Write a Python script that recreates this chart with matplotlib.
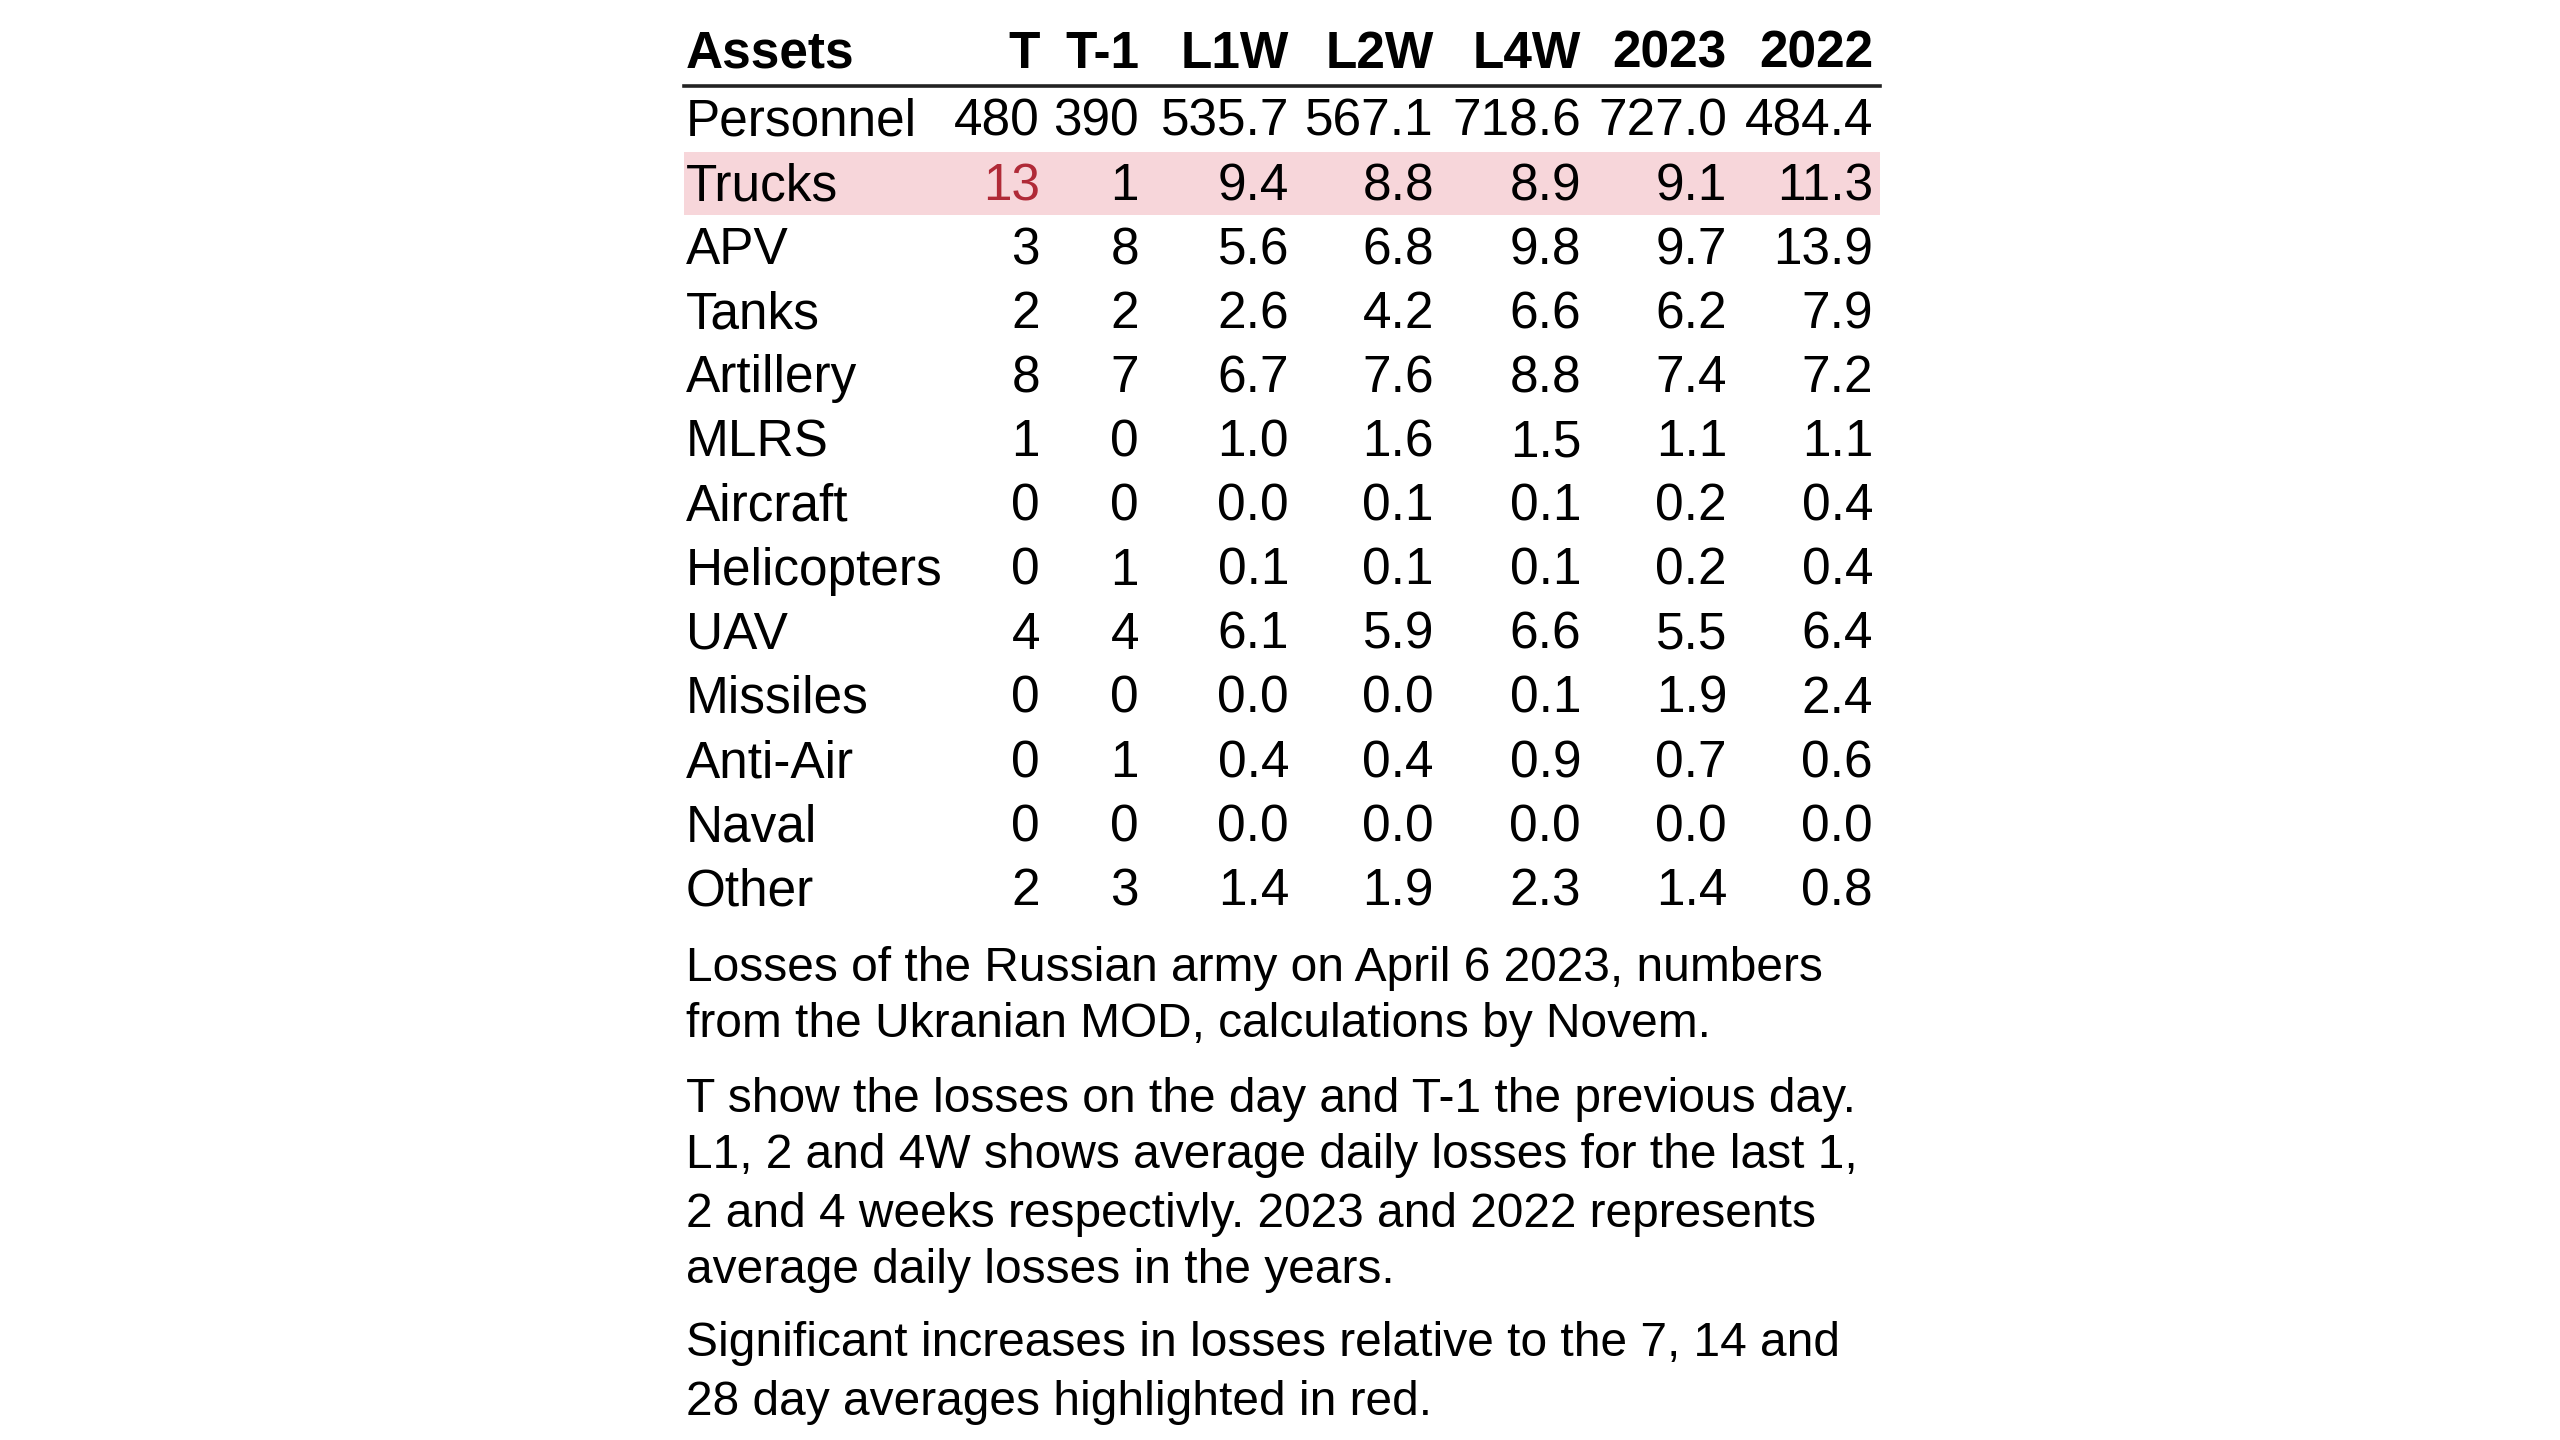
import matplotlib
matplotlib.use("Agg")
import matplotlib.pyplot as plt
from matplotlib.patches import Rectangle
from matplotlib.lines import Line2D

plt.rcParams['font.family'] = ['Liberation Sans', 'DejaVu Sans']

columns = ["T", "T-1", "L1W", "L2W", "L4W", "2023", "2022"]
assets = ["Personnel", "Trucks", "APV", "Tanks", "Artillery", "MLRS", "Aircraft",
          "Helicopters", "UAV", "Missiles", "Anti-Air", "Naval", "Other"]
col_T = ["480", "13", "3", "2", "8", "1", "0", "0", "4", "0", "0", "0", "2"]
col_T1 = ["390", "1", "8", "2", "7", "0", "0", "1", "4", "0", "1", "0", "3"]
col_L1W = [535.7, 9.4, 5.6, 2.6, 6.7, 1.0, 0.0, 0.1, 6.1, 0.0, 0.4, 0.0, 1.4]
col_L2W = [567.1, 8.8, 6.8, 4.2, 7.6, 1.6, 0.1, 0.1, 5.9, 0.0, 0.4, 0.0, 1.9]
col_L4W = [718.6, 8.9, 9.8, 6.6, 8.8, 1.5, 0.1, 0.1, 6.6, 0.1, 0.9, 0.0, 2.3]
col_2023 = [727.0, 9.1, 9.7, 6.2, 7.4, 1.1, 0.2, 0.2, 5.5, 1.9, 0.7, 0.0, 1.4]
col_2022 = [484.4, 11.3, 13.9, 7.9, 7.2, 1.1, 0.4, 0.4, 6.4, 2.4, 0.6, 0.0, 0.8]
highlight_rows = ["Trucks"]
highlight_cells = [("Trucks", "T")]

notes = [
    ["Losses of the Russian army on April 6 2023, numbers",
     "from the Ukranian MOD, calculations by Novem."],
    ["T show the losses on the day and T-1 the previous day.",
     "L1, 2 and 4W shows average daily losses for the last 1,",
     "2 and 4 weeks respectivly. 2023 and 2022 represents",
     "average daily losses in the years."],
    ["Significant increases in losses relative to the 7, 14 and",
     "28 day averages highlighted in red."],
]

W, H = 2560, 1440
fig = plt.figure(figsize=(W / 100, H / 100), dpi=100)
fig.patch.set_facecolor("white")

def fx(x):
    return x / W

def fy(y):
    return 1 - y / H

left = 686
tbl_left, tbl_right = 684, 1880
right_edges = [1040, 1139, 1289, 1434, 1581, 1727, 1873]
header_base = 68
row0_base = 136
row_pitch = 64.1
fs_table = 37
fs_note = 34.5
pink = "#f7d6da"
red = "#b02a37"

# header
fig.text(fx(left), fy(header_base), "Assets", fontsize=fs_table, fontweight="bold",
         ha="left", va="baseline", color="black")
for c, xr in zip(columns, right_edges):
    fig.text(fx(xr), fy(header_base), c, fontsize=fs_table, fontweight="bold",
             ha="right", va="baseline", color="black")

fig.add_artist(Line2D([fx(tbl_left), fx(tbl_right)], [fy(86), fy(86)], color="#222222",
                      linewidth=2.6, transform=fig.transFigure))

data_cols = [col_T, col_T1,
             [f"{v:.1f}" for v in col_L1W],
             [f"{v:.1f}" for v in col_L2W],
             [f"{v:.1f}" for v in col_L4W],
             [f"{v:.1f}" for v in col_2023],
             [f"{v:.1f}" for v in col_2022]]

for i, name in enumerate(assets):
    base = row0_base + i * row_pitch
    if name in highlight_rows:
        top = base - 48
        bot = base + 15
        fig.add_artist(Rectangle((fx(tbl_left), fy(bot)), fx(tbl_right) - fx(tbl_left),
                                 fy(top) - fy(bot), facecolor=pink, edgecolor="none",
                                 transform=fig.transFigure, zorder=0))
    fig.text(fx(left), fy(base), name, fontsize=fs_table, ha="left", va="baseline",
             color="black")
    for c, col, xr in zip(columns, data_cols, right_edges):
        colr = red if (name, c) in highlight_cells else "black"
        fig.text(fx(xr), fy(base), col[i], fontsize=fs_table, ha="right",
                 va="baseline", color=colr)

note_bases = [[981, 1037], [1112, 1168, 1227, 1283], [1356, 1415]]
for para, bases in zip(notes, note_bases):
    for line, b in zip(para, bases):
        fig.text(fx(left), fy(b), line, fontsize=fs_note, ha="left", va="baseline",
                 color="black")

fig.savefig("out.png", dpi=100, facecolor="white")
